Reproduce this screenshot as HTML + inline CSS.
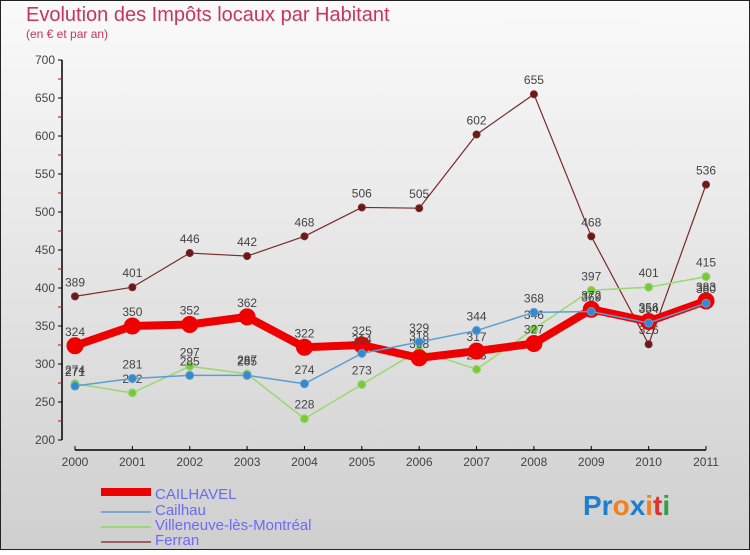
<!DOCTYPE html>
<html><head><meta charset="utf-8"><style>
html,body{margin:0;padding:0}
body{width:750px;height:550px;overflow:hidden;font-family:"Liberation Sans",sans-serif}
</style></head><body>
<svg width="750" height="550" xmlns="http://www.w3.org/2000/svg">
<defs><linearGradient id="bg" x1="0" y1="0" x2="0" y2="1"><stop offset="0" stop-color="#fafafa"/><stop offset="1" stop-color="#cfcfcf"/></linearGradient></defs>
<rect x="0.5" y="0.5" width="749" height="549" fill="url(#bg)" stroke="#222"/>
<text x="26" y="21" font-size="20" fill="#c8355f">Evolution des Impôts locaux par Habitant</text>
<text x="26" y="38" font-size="12" fill="#c8355f">(en € et par an)</text>
<g id="axes"></g>
<g id="series"></g>
<g>
<rect x="101" y="488" width="50" height="8" fill="#e00"/>
<text x="155" y="499" font-size="15" fill="#6a6aff">CAILHAVEL</text>
<line x1="101" y1="512" x2="151" y2="512" stroke="#7aaad0" stroke-width="2"/>
<text x="155" y="515" font-size="15" fill="#6a6aff">Cailhau</text>
<line x1="101" y1="527" x2="151" y2="527" stroke="#9ad87a" stroke-width="2"/>
<text x="155" y="530" font-size="15" fill="#6a6aff">Villeneuve-lès-Montréal</text>
<line x1="101" y1="542" x2="151" y2="542" stroke="#a06060" stroke-width="2"/>
<text x="155" y="545" font-size="15" fill="#6a6aff">Ferran</text>
</g>
<g font-size="28" font-weight="bold">
<text x="583" y="515"><tspan fill="#1e7fd0">Pr</tspan><tspan fill="#f08020">o</tspan><tspan fill="#1e7fd0">x</tspan><tspan fill="#f08020">i</tspan><tspan fill="#e03030">t</tspan><tspan fill="#30a040">i</tspan></text>
</g>
</svg>
<script>
const years=[2000,2001,2002,2003,2004,2005,2006,2007,2008,2009,2010,2011];
const yTicks=[200,250,300,350,400,450,500,550,600,650,700];
const cailhavel=[324,350,352,362,322,325,308,317,327,372,356,383];
const cailhau=[271,281,285,285,274,314,329,344,368,369,354,380];
const villeneuve=[274,262,297,287,228,273,318,293,346,397,401,415];
const ferran=[389,401,446,442,468,506,505,602,655,468,326,536];
const NS="http://www.w3.org/2000/svg";
function xs(i){return 75+i*(706-75)/(years.length-1);}
function ys(v){return 440-(v-200)*380/500;}
function mk(tag,attrs,parent){const e=document.createElementNS(NS,tag);for(const k in attrs)e.setAttribute(k,attrs[k]);parent.appendChild(e);return e;}
const ax=document.getElementById('axes');
let l=mk('line',{x1:62,y1:60,x2:62,y2:440,stroke:'#000','stroke-width':1.5},ax);


yTicks.forEach(v=>{
 const t=mk('line',{x1:58,y1:ys(v),x2:62,y2:ys(v),stroke:'#000'},ax);
 
 
 const m=mk('line',{x1:58,y1:ys(v+25),x2:62,y2:ys(v+25),stroke:'#d00'},ax);
 if(v===700)m.remove();
 const tx=mk('text',{x:55,y:ys(v)+4,'font-size':12,fill:'#444','text-anchor':'end'},ax);
 tx.textContent=v;
 
 
});
l=mk('line',{x1:75,y1:450,x2:706,y2:450,stroke:'#000','stroke-width':1.5},ax);


years.forEach((y,i)=>{
 const t=mk('line',{x1:xs(i),y1:446,x2:xs(i),y2:450,stroke:'#000'},ax);
 
 
 const tx=mk('text',{x:xs(i),y:466,'font-size':12,fill:'#444','text-anchor':'middle'},ax);
 tx.textContent=y;
 
 
});
const sg=document.getElementById('series');
function series(vals,name,color,w,r,dot){
 const g=mk('g',{},sg);
 
 
 const p=mk('polyline',{points:vals.map((v,i)=>xs(i)+','+ys(v)).join(' '),fill:'none',stroke:color,'stroke-width':w,'stroke-linejoin':'round'},g);
 
 
 vals.forEach((v,i)=>{
  const c=mk('circle',{cx:xs(i),cy:ys(v),r:r,fill:dot,stroke:color,'stroke-width':1},g);
  
  
  const t=mk('text',{x:xs(i),y:ys(v)-10,'font-size':12,fill:'#444','text-anchor':'middle'},g);
  t.textContent=v;
  
  
 });
}
series(ferran,'ferran','#7a2a2a',1.2,3.5,'#6a1a1a');
series(villeneuve,'villeneuve','#9ad870',1.5,4,'#7ac840');
series(cailhavel,'cailhavel','#ee0000',8,8,'#ee0000');
series(cailhau,'cailhau','#5a9fd4',1.5,4,'#3a88cc');
</script>
</body></html>
